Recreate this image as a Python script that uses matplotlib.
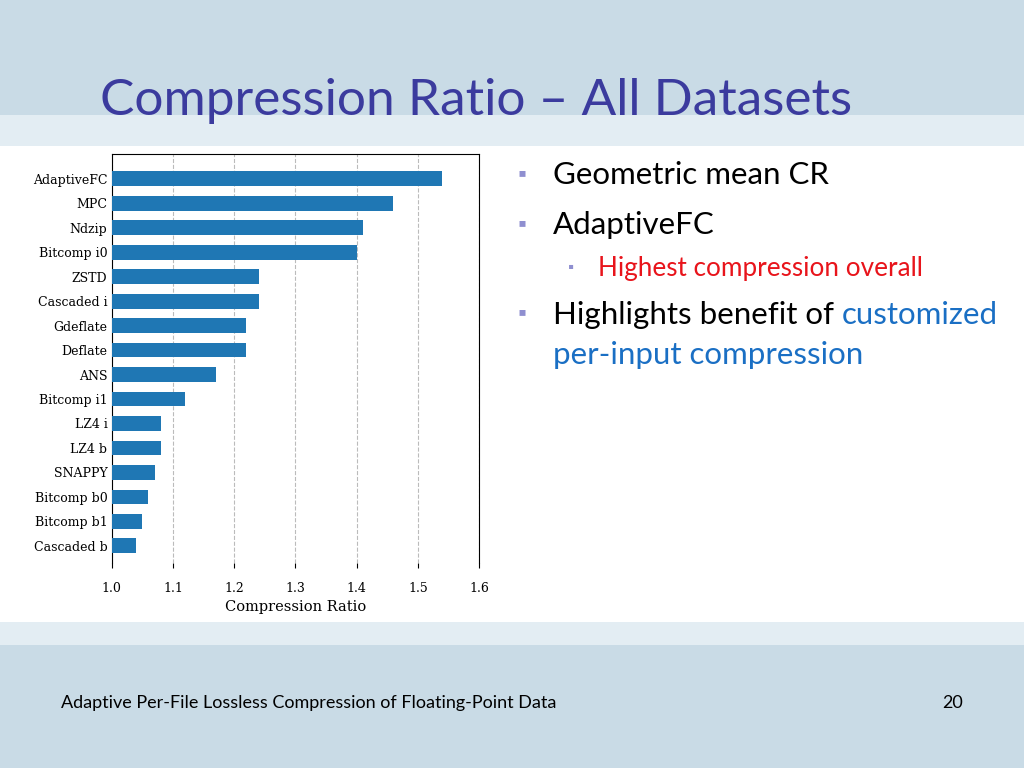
import matplotlib.pyplot as plt
import numpy as np
from matplotlib.patches import Rectangle

methods = ["AdaptiveFC", "MPC", "Ndzip", "Bitcomp i0", "ZSTD", "Cascaded i", "Gdeflate",
           "Deflate", "ANS", "Bitcomp i1", "LZ4 i", "LZ4 b", "SNAPPY", "Bitcomp b0",
           "Bitcomp b1", "Cascaded b"]
ratios = [1.54, 1.46, 1.41, 1.40, 1.24, 1.24, 1.22, 1.22, 1.17, 1.12, 1.08, 1.08,
          1.07, 1.06, 1.05, 1.04]
xticks = [1.0, 1.1, 1.2, 1.3, 1.4, 1.5, 1.6]

slide_font = "Lato"
fig = plt.figure(figsize=(10.24, 7.68), dpi=100)
fig.patch.set_facecolor("white")

# slide background bands (circuit-board picture stand-in)
fig.patches.append(Rectangle((0, 0.83), 1, 0.17, transform=fig.transFigure,
                             facecolor="#c9dbe6", zorder=-2))
fig.patches.append(Rectangle((0, 0.0), 1, 0.17, transform=fig.transFigure,
                             facecolor="#c9dbe6", zorder=-2))
fig.patches.append(Rectangle((0, 0.81), 1, 0.04, transform=fig.transFigure,
                             facecolor="#e3edf3", zorder=-2))
fig.patches.append(Rectangle((0, 0.16), 1, 0.03, transform=fig.transFigure,
                             facecolor="#e3edf3", zorder=-2))

fig.text(0.098, 0.868, "Compression Ratio \u2013 All Datasets", fontsize=37,
         color="#3b3b9e", va="center", fontfamily=slide_font)

ax = fig.add_axes([0.109, 0.267, 0.359, 0.532])
y = np.arange(len(methods))
ax.barh(y, [r - 1.0 for r in ratios], left=1.0, height=0.6, color="#1f77b4", zorder=3)
ax.set_yticks(y)
ax.set_yticklabels(methods, fontfamily="DejaVu Serif", fontsize=9)
ax.invert_yaxis()
ax.set_ylim(len(methods) - 0.3, -1.0)
ax.set_xlim(1.0, 1.6)
ax.set_xticks(xticks)
ax.set_xticklabels([f"{t:.1f}" for t in xticks], fontfamily="DejaVu Serif", fontsize=9)
ax.set_xlabel("Compression Ratio", fontfamily="DejaVu Serif", fontsize=10.5)
ax.tick_params(axis="y", length=0, pad=3)
ax.tick_params(axis="x", pad=10)
ax.grid(axis="x", linestyle="--", color="#bbbbbb", linewidth=0.8, zorder=0)
ax.spines["bottom"].set_visible(False)
ax.set_facecolor("white")

bullet = "#8f8fd0"
kw = dict(fontfamily=slide_font, va="center")
fig.text(0.505, 0.773, "\u25aa", fontsize=16, color=bullet, **kw)
fig.text(0.540, 0.772, "Geometric mean CR", fontsize=22.5, **kw)
fig.text(0.505, 0.708, "\u25aa", fontsize=16, color=bullet, **kw)
fig.text(0.540, 0.707, "AdaptiveFC", fontsize=22.5, **kw)
fig.text(0.555, 0.651, "\u25aa", fontsize=11, color=bullet, **kw)
fig.text(0.584, 0.651, "Highest compression overall", fontsize=18.8, color="#e8141b", **kw)
fig.text(0.505, 0.592, "\u25aa", fontsize=16, color=bullet, **kw)
hl = fig.text(0.540, 0.590, "Highlights benefit of", fontsize=22.5, **kw)
fig.canvas.draw()
x_end = fig.transFigure.inverted().transform(
    (hl.get_window_extent().x1, 0))[0]
fig.text(x_end + 0.008, 0.590, "customized", fontsize=22.5, color="#1a6fc4", **kw)
fig.text(0.540, 0.538, "per-input compression", fontsize=22.5, color="#1a6fc4", **kw)

fig.text(0.060, 0.084, "Adaptive Per-File Lossless Compression of Floating-Point Data",
         fontsize=13, **kw)
fig.text(0.930, 0.084, "20", fontsize=13, ha="center", **kw)

fig.savefig("out.png", dpi=100)
